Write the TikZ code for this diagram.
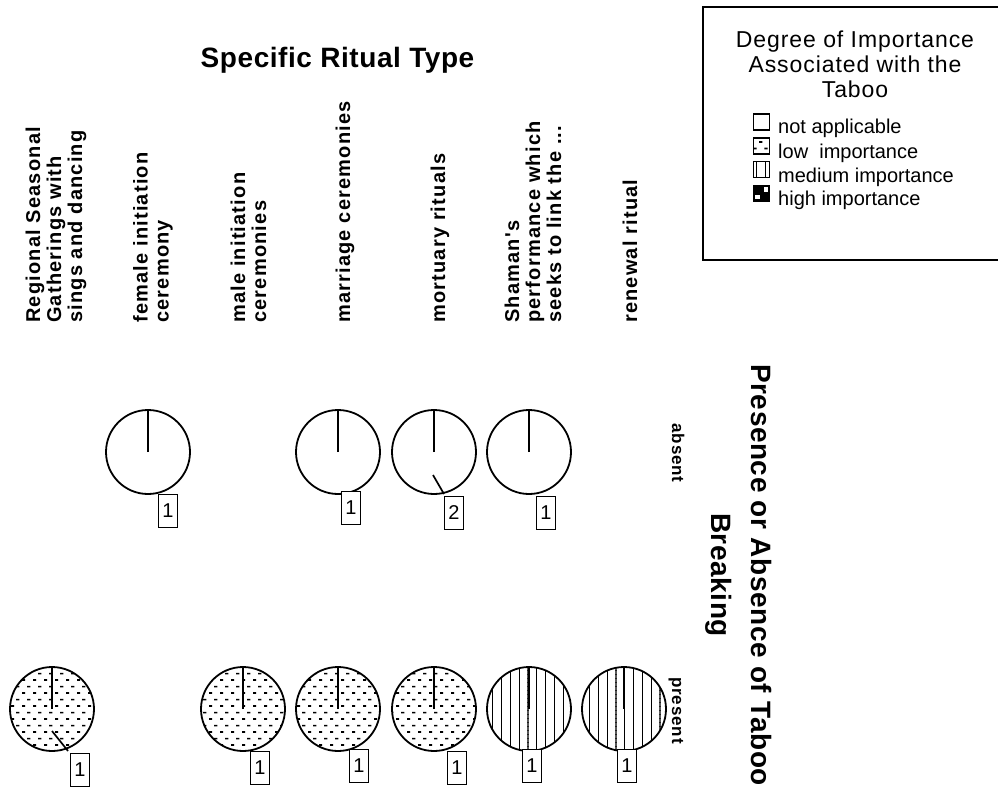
\documentclass[tikz,border=0pt]{standalone}
\usepackage{fontspec}
\setmainfont{Liberation Sans}
\newfontfamily\headfont[LetterSpace=2]{Liberation Sans}
\newfontfamily\colfont[LetterSpace=6]{Liberation Sans}
\newfontfamily\rowfont[LetterSpace=5]{Liberation Sans}
\newfontfamily\keyfont[LetterSpace=4]{Liberation Sans}
\usetikzlibrary{patterns}

\pgfdeclarepatternformonly{lowdash}{\pgfqpoint{0pt}{-1pt}}{\pgfqpoint{11pt}{12.4pt}}{\pgfqpoint{11pt}{13.4pt}}{
  \pgfsetlinewidth{1.8pt}
  \pgfpathmoveto{\pgfqpoint{0pt}{0pt}}\pgfpathlineto{\pgfqpoint{3.5pt}{0pt}}
  \pgfpathmoveto{\pgfqpoint{5.5pt}{6.7pt}}\pgfpathlineto{\pgfqpoint{9pt}{6.7pt}}
  \pgfusepath{stroke}}

\pgfdeclarepatternformonly{medlines}{\pgfqpoint{-0.7pt}{-0.5pt}}{\pgfqpoint{0.7pt}{4.5pt}}{\pgfqpoint{8.8pt}{4pt}}{
  \pgfsetlinewidth{1.3pt}
  \pgfpathmoveto{\pgfqpoint{0pt}{-0.5pt}}\pgfpathlineto{\pgfqpoint{0pt}{4.5pt}}
  \pgfusepath{stroke}}

\tikzset{
  pie/.style={circle, draw, line width=1.8pt, minimum size=84pt, inner sep=0pt},
  spoke/.style={line width=2.6pt},
  wedge/.style={line width=1.7pt},
  countbox/.style={draw, fill=white, line width=1.5pt, minimum width=19pt, minimum height=33pt, inner sep=0pt, font=\fontsize{20}{22}\selectfont},
  collabel/.style={rotate=90, anchor=west, align=left, inner sep=0pt, font=\colfont\bfseries\fontsize{20}{21}\selectfont},
  rowlabel/.style={rotate=-90, anchor=base, inner sep=0pt, font=\rowfont\bfseries\fontsize{17}{19}\selectfont},
  keybox/.style={draw, line width=1.4pt, minimum size=16pt, inner sep=0pt},
  keytext/.style={anchor=base west, inner sep=0pt, font=\fontsize{20}{22}\selectfont}
}

\begin{document}
\begin{tikzpicture}[x=1pt, y=-1pt]
\useasboundingbox (0,0) rectangle (998,798);

\node [anchor=base, inner sep=0pt, font=\headfont\bfseries\fontsize{28}{32}\selectfont] (title) at (337.5,67) {Specific Ritual Type};

\node [collabel] (c1) at (56,323) {Regional Seasonal\\Gatherings with\\sings and dancing};
\node [collabel] (c2) at (153,323) {female initiation\\ceremony};
\node [collabel] (c3) at (248.5,323) {male initiation\\ceremonies};
\node [collabel] (c4) at (345,323) {marriage ceremonies};
\node [collabel] (c5) at (440,323) {mortuary rituals};
\node [collabel] (c6) at (533,323) {Shaman's\\performance which\\seeks to link the ...};
\node [collabel] (c7) at (630,323) {renewal ritual};

\node [rowlabel] (ra) at (672,453) {absent};
\node [rowlabel] (rp) at (672,710.5) {present};

\node [rotate=-90, align=center, inner sep=0pt, font=\headfont\bfseries\fontsize{28}{40}\selectfont] (rowtitle) at (739,575) {Presence or Absence of Taboo\\Breaking};

\draw [line width=1.8pt] (703,7) rectangle (1010,260);
\node [anchor=north, align=center, inner sep=0pt, font=\keyfont\fontsize{23}{25}\selectfont] (keytitle) at (855,31) {Degree of Importance\\Associated with the\\Taboo};

\node [keybox] (k1) at (761.5,122) {};
\node [keytext] (t1) at (778,133) {not applicable};
\node [keybox, pattern=lowdash] (k2) at (761.5,146) {};
\node [keytext] (t2) at (778,158) {low\ \ importance};
\node [keybox, pattern=medlines] (k3) at (761.5,169.5) {};
\node [keytext] (t3) at (778,182) {medium importance};
\node [keybox, fill=black] (k4) at (761.5,193.5) {};
\fill [white] (764,187) rectangle (768,192);
\fill [white] (755,195) rectangle (760,199);
\node [keytext] (t4) at (778,205) {high importance};

\node [pie] (a2) at (148,452) {};
\node [pie] (a4) at (338,452) {};
\node [pie] (a5) at (434,452) {};
\node [pie] (a6) at (529,452) {};

\draw [spoke] (a2.center) -- (a2.north);
\draw [spoke] (a4.center) -- (a4.north);
\draw [spoke] (a5.center) -- (a5.north);
\draw [spoke] (a6.center) -- (a6.north);
\draw [wedge] (433,475) -- (444,494);

\node [countbox] (na2) at (168,511) {1};
\node [countbox] (na4) at (351,508) {1};
\node [countbox] (na5) at (454,513) {2};
\node [countbox] (na6) at (546,513) {1};

\node [pie, pattern=lowdash] (p1) at (52,709) {};
\node [pie, pattern=lowdash] (p3) at (243,709) {};
\node [pie, pattern=lowdash] (p4) at (338,709) {};
\node [pie, pattern=lowdash] (p5) at (434,709) {};
\node [pie, pattern=medlines] (p6) at (529,709) {};
\node [pie, pattern=medlines] (p7) at (624,709) {};

\draw [spoke] (p1.center) -- (p1.north);
\draw [spoke] (p3.center) -- (p3.north);
\draw [spoke] (p4.center) -- (p4.north);
\draw [spoke] (p5.center) -- (p5.north);
\draw [spoke] (p6.center) -- (p6.north);
\draw [spoke] (p7.center) -- (p7.north);
\draw [wedge] (52,731) -- (68,751);

\node [countbox] (np1) at (80,770) {1};
\node [countbox] (np3) at (260,768) {1};
\node [countbox] (np4) at (359,766) {1};
\node [countbox] (np5) at (457,768) {1};
\node [countbox] (np6) at (532,766) {1};
\node [countbox] (np7) at (627,766) {1};

\end{tikzpicture}
\end{document}
